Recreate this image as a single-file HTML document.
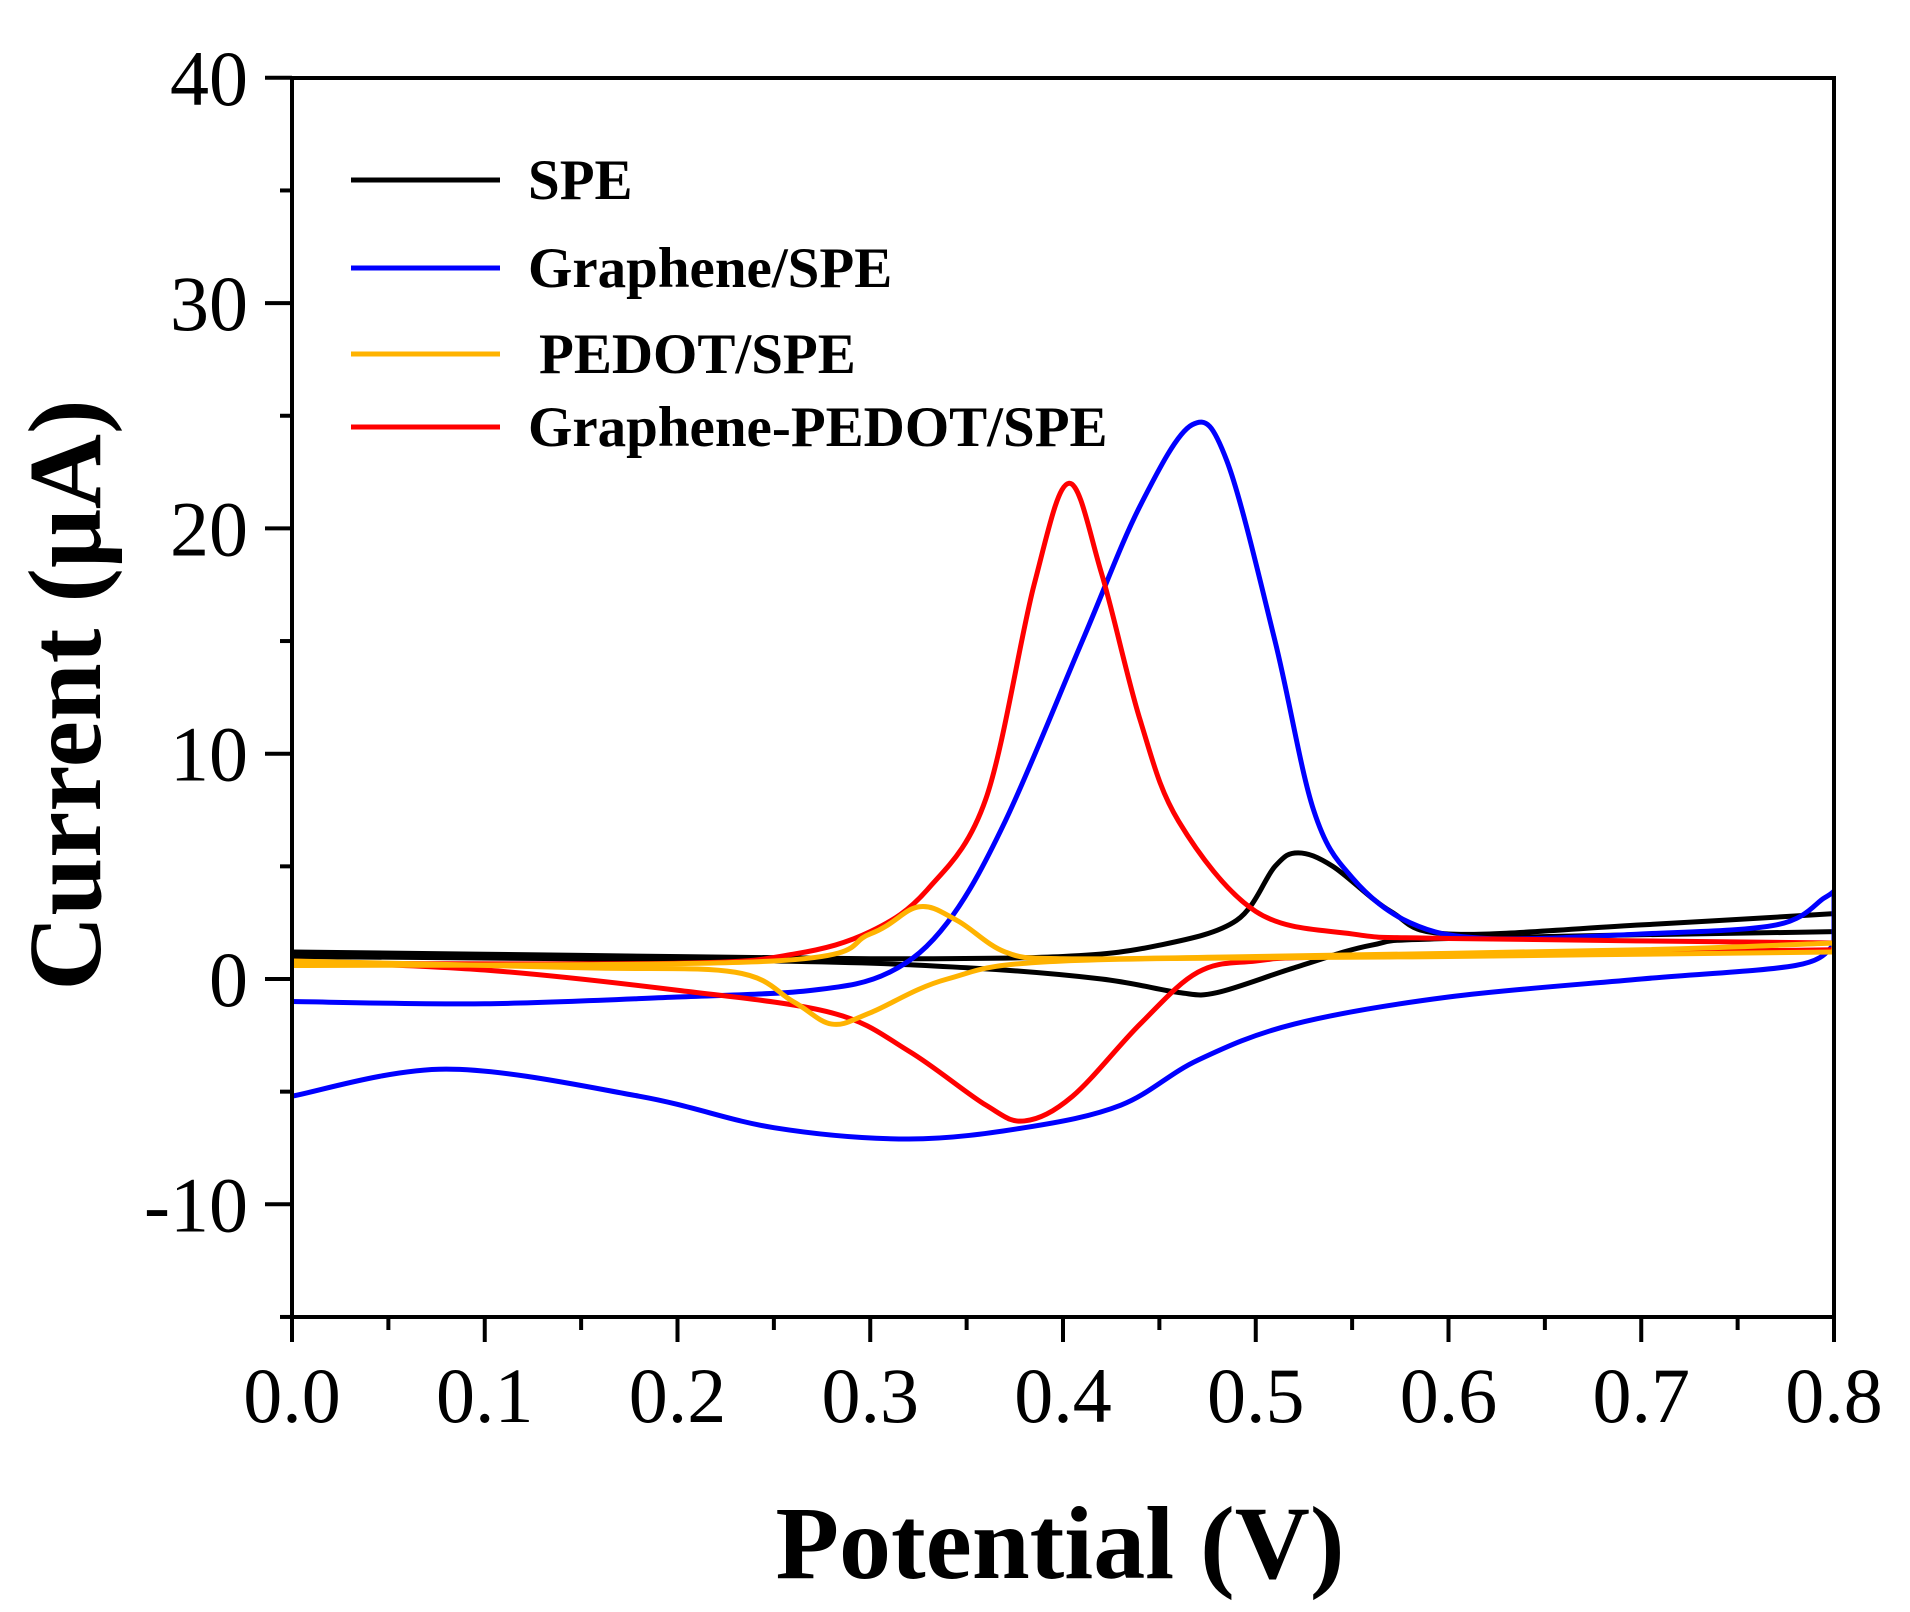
<!DOCTYPE html>
<html><head><meta charset="utf-8"><style>
html,body{margin:0;padding:0;background:#fff;}
svg{display:block;}
text{font-family:"Liberation Serif",serif;fill:#000;}
</style></head><body>
<svg id="s" width="1910" height="1612" viewBox="0 0 1910 1612" xmlns="http://www.w3.org/2000/svg">
<defs><clipPath id="cp"><rect x="292" y="78" width="1542" height="1239"/></clipPath></defs>
<g id="curves" fill="none" stroke-width="5" stroke-linejoin="round" stroke-linecap="round" clip-path="url(#cp)"></g>
<g stroke="#000" stroke-width="4" fill="none">
<rect x="292" y="78" width="1542" height="1239"/>
</g>
<g id="ticks" stroke="#000" stroke-width="4"></g>
<g id="labels" font-size="78"></g>
<text x="1060" y="1578" font-size="104" font-weight="bold" text-anchor="middle">Potential (V)</text>
<text transform="translate(100,695) rotate(-90)" font-size="104" font-weight="bold" text-anchor="middle">Current (μA)</text>
<g stroke-width="5">
<line x1="351" y1="180" x2="500" y2="180" stroke="#000"/>
<line x1="351" y1="268" x2="500" y2="268" stroke="#0000ff"/>
<line x1="351" y1="354" x2="500" y2="354" stroke="#ffb300"/>
<line x1="351" y1="427" x2="500" y2="427" stroke="#ff0000"/>
</g>
<g font-size="57" font-weight="bold">
<text x="528" y="199">SPE</text>
<text x="528" y="287">Graphene/SPE</text>
<text x="539" y="373">PEDOT/SPE</text>
<text x="528" y="446">Graphene-PEDOT/SPE</text>
</g>
</svg>
<script>
var X=function(v){return 292+v*1927.5;},Y=function(v){return 979-v*22.53;};
var NS="http://www.w3.org/2000/svg";
function path(pts){var p=pts.map(function(a){return [X(a[0]),Y(a[1])];});
var d="M"+p[0][0]+","+p[0][1];
for(var i=0;i<p.length-1;i++){var p0=p[i-1]||p[i],p1=p[i],p2=p[i+1],p3=p[i+2]||p2;
d+=" C"+(p1[0]+(p2[0]-p0[0])/6)+","+(p1[1]+(p2[1]-p0[1])/6)+" "+(p2[0]-(p3[0]-p1[0])/6)+","+(p2[1]-(p3[1]-p1[1])/6)+" "+p2[0]+","+p2[1];}
return d;}
function one(pts,c){var e=document.createElementNS(NS,"path");e.setAttribute("d",path(pts));e.setAttribute("stroke",c);document.getElementById("curves").appendChild(e);}
function add(f,r,c){one(f,c);one(r,c);var a=f[f.length-1],b=r[0];one([a,b],c);}
add([[0,1.2],[0.15,1.05],[0.3,0.9],[0.4,1.0],[0.45,1.5],[0.49,2.6],[0.51,5],[0.522,5.6],[0.54,5],[0.57,3],[0.6,2],[0.7,2.4],[0.8,2.9]],
    [[0.8,2.1],[0.6,1.8],[0.56,1.5],[0.52,0.5],[0.48,-0.6],[0.46,-0.6],[0.42,0],[0.35,0.5],[0.25,0.8],[0,1.0]],"#000");
add([[0,-1],[0.1,-1.1],[0.2,-0.8],[0.27,-0.5],[0.31,0.3],[0.34,2.5],[0.37,7],[0.41,15],[0.44,21],[0.467,24.6],[0.485,23],[0.51,15],[0.53,7.5],[0.55,4.5],[0.58,2.5],[0.62,1.8],[0.7,2],[0.77,2.4],[0.795,3.6],[0.8,3.9]],
    [[0.8,1.5],[0.78,0.6],[0.7,0],[0.6,-0.8],[0.52,-2],[0.47,-3.6],[0.43,-5.6],[0.38,-6.6],[0.32,-7.1],[0.25,-6.6],[0.18,-5.2],[0.08,-4],[0,-5.2]],"#0000ff");
add([[0,0.7],[0.2,0.7],[0.26,1.1],[0.3,2.1],[0.33,4],[0.36,8],[0.385,17.5],[0.403,22],[0.42,18],[0.44,11.5],[0.46,7],[0.5,3],[0.55,2],[0.6,1.8],[0.8,1.6]],
    [[0.8,1.3],[0.55,1],[0.5,0.8],[0.47,0.3],[0.44,-2],[0.405,-5.2],[0.38,-6.3],[0.36,-5.6],[0.32,-3.2],[0.28,-1.5],[0.2,-0.5],[0.1,0.4],[0,0.8]],"#ff0000");
add([[0,0.6],[0.25,0.8],[0.3,2],[0.325,3.2],[0.345,2.6],[0.37,1.2],[0.4,0.9],[0.5,1],[0.7,1.3],[0.8,1.6]],
    [[0.8,1.2],[0.6,1],[0.4,0.8],[0.34,0],[0.3,-1.5],[0.28,-2],[0.26,-1],[0.23,0.3],[0.15,0.5],[0,0.8]],"#ffb300");
var t=document.getElementById("ticks"),L=document.getElementById("labels");
function ln(a,b,c,d){var e=document.createElementNS(NS,"line");e.setAttribute("x1",a);e.setAttribute("y1",b);e.setAttribute("x2",c);e.setAttribute("y2",d);t.appendChild(e);}
function tx(x,y,s,anc){var e=document.createElementNS(NS,"text");e.setAttribute("x",x);e.setAttribute("y",y);e.setAttribute("text-anchor",anc);e.textContent=s;L.appendChild(e);}
for(var v=-15;v<=40;v+=5){var y=Y(v);var maj=(v%10===0);ln(maj?265:280,y,292,y);if(maj)tx(248,y+27,String(v),"end");}
for(var i=0;i<=16;i++){var x=X(i*0.05);var maj=(i%2===0);ln(x,1317,x,maj?1342:1330);if(maj)tx(x,1422,(i*0.05).toFixed(1),"middle");}
</script>
</body></html>
